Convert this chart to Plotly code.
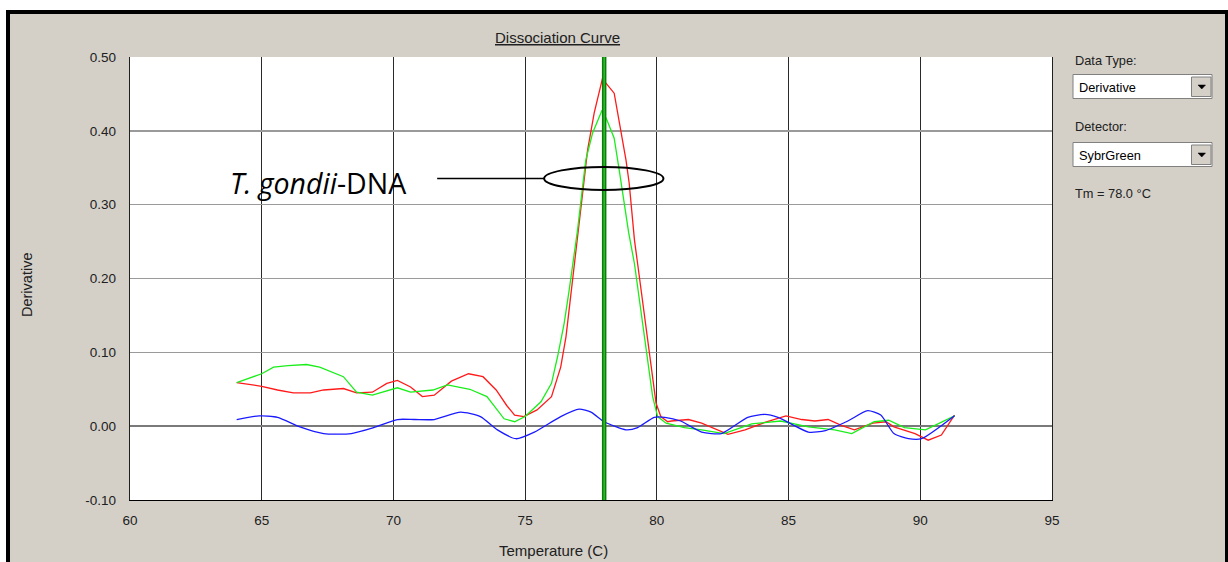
import plotly.graph_objects as go

# ---- melt-curve data (temperature in °C, derivative of fluorescence) ----
red_temp = [64.05, 64.6, 65.0, 65.6, 66.2, 66.85, 67.35, 68.1, 68.6, 69.2, 69.75, 70.15,
            70.65, 71.1, 71.55, 72.2, 72.85, 73.4, 73.9, 74.3, 74.6, 74.95, 75.45, 76.0,
            76.35, 76.55, 76.73, 76.92, 77.18, 77.37, 77.62, 77.95, 78.06, 78.38, 78.64,
            78.83, 78.95, 79.15, 79.27, 79.52, 79.78, 79.97, 80.15, 80.41, 80.55, 81.2,
            81.7, 82.2, 82.7, 83.35, 84.1, 84.9, 85.5, 86.0, 86.5, 87.0, 87.5, 88.2, 88.7,
            89.0, 89.8, 90.3, 90.8, 91.3]
red_val = [0.059, 0.056, 0.054, 0.049, 0.045, 0.045, 0.049, 0.051, 0.045, 0.046, 0.058, 0.062,
           0.053, 0.040, 0.042, 0.061, 0.071, 0.067, 0.049, 0.028, 0.015, 0.013, 0.022, 0.040,
           0.080, 0.121, 0.175, 0.229, 0.315, 0.374, 0.424, 0.473, 0.465, 0.451, 0.401,
           0.360, 0.329, 0.252, 0.220, 0.153, 0.085, 0.031, 0.013, 0.006, 0.007, 0.009,
           0.004, -0.004, -0.011, -0.005, 0.005, 0.014, 0.009, 0.007, 0.009, 0.001, -0.005, 0.004, 0.006,
           -0.001, -0.010, -0.019, -0.012, 0.015]

green_temp = [64.05, 65.0, 65.45, 66.0, 66.7, 67.2, 68.1, 68.6, 69.2, 69.7, 70.15, 70.65,
              71.5, 72.05, 72.9, 73.55, 74.2, 74.6, 75.0, 75.6, 76.0, 76.23, 76.48, 76.67,
              76.86, 76.99, 77.18, 77.3, 77.56, 77.92, 78.1, 78.38, 78.57, 78.7, 78.93,
              79.15, 79.4, 79.65, 79.84, 80.03, 80.35, 81.05, 81.7, 82.55, 83.6, 84.7,
              85.75, 86.75, 87.4, 88.25, 88.8, 89.4, 90.2, 91.3]
green_val = [0.059, 0.071, 0.080, 0.082, 0.0835, 0.080, 0.067, 0.046, 0.042, 0.047, 0.052, 0.046,
             0.049, 0.056, 0.050, 0.040, 0.010, 0.006, 0.013, 0.033, 0.058, 0.094, 0.139, 0.184,
             0.229, 0.266, 0.324, 0.360, 0.397, 0.428, 0.415, 0.390, 0.347, 0.315, 0.262,
             0.220, 0.153, 0.085, 0.040, 0.013, 0.004, -0.002, -0.005, -0.010, 0.003, 0.007,
             -0.001, -0.005, -0.010, 0.006, 0.008, -0.002, -0.005, 0.014]

blue_temp = [64.05, 64.9, 65.6, 66.45, 67.35, 68.4, 69.25, 70.15, 70.8, 71.55, 72.55, 73.3,
             73.95, 74.65, 75.35, 76.35, 77.05, 77.5, 78.0, 78.83, 79.27, 79.9, 80.3, 80.9,
             81.7, 82.45, 83.45, 84.1, 84.6, 85.75, 86.4, 87.25, 88.0, 88.5, 89.0, 89.55,
             90.05, 91.3]
blue_val = [0.009, 0.014, 0.012, -0.001, -0.010, -0.010, -0.002, 0.009, 0.009, 0.009, 0.019, 0.013,
            -0.005, -0.017, -0.008, 0.013, 0.023, 0.019, 0.006, -0.005, -0.002, 0.012, 0.012, 0.007,
            -0.008, -0.010, 0.012, 0.016, 0.012, -0.008, -0.006, 0.007, 0.021, 0.015, -0.010, -0.017,
            -0.017, 0.014]

melt_temp = 78.0
x_ticks = [60, 65, 70, 75, 80, 85, 90, 95]
y_ticks = [-0.10, 0.00, 0.10, 0.20, 0.30, 0.40, 0.50]

chart_title = "Dissociation Curve"
x_title = "Temperature (C)"
y_title = "Derivative"
data_type = "Derivative"
detector = "SybrGreen"
target_label = "<i>T. gondii</i>-DNA"

# ---- page geometry (pixels) ----
W, H = 1228, 562
L, R, T, B = 130, 1052, 57, 500
PW, PH = R - L, B - T


def xp(px):
    return (px - L) / PW


def yp(py):
    return (B - py) / PH


UI_FONT = "Liberation Sans, Arial, sans-serif"
GRAY = "#d4d0c8"

fig = go.Figure()
for tx, vy, col in [(red_temp, red_val, "#ff1a1a"),
                    (green_temp, green_val, "#1aee1a"),
                    (blue_temp, blue_val, "#1a1aff")]:
    fig.add_trace(go.Scatter(x=tx, y=vy, mode="lines",
                             line=dict(color=col, width=1.3),
                             hoverinfo="skip", showlegend=False))
fig.data[2].line.shape = "spline"
fig.data[2].line.smoothing = 0.6

shapes = []
# window background regions and frame
shapes.append(dict(type="rect", xref="paper", yref="paper", x0=xp(0), x1=xp(W), y0=yp(0), y1=yp(10),
                   fillcolor="white", line_width=0, layer="below"))
shapes.append(dict(type="rect", xref="paper", yref="paper", x0=xp(0), x1=xp(6), y0=yp(0), y1=yp(H),
                   fillcolor="white", line_width=0, layer="below"))
for x0, x1, y0, y1 in [(6, W, 10, 14), (6, 10, 10, H), (1225, W, 10, H)]:
    shapes.append(dict(type="rect", xref="paper", yref="paper", x0=xp(x0), x1=xp(x1),
                       y0=yp(y0), y1=yp(y1), fillcolor="black", line_width=0))

# Tm marker
shapes.append(dict(type="line", xref="x", yref="paper", x0=melt_temp, x1=melt_temp, y0=0, y1=1,
                   line=dict(color="#0b7d0b", width=4.5)))
shapes.append(dict(type="line", xref="x", yref="paper", x0=melt_temp, x1=melt_temp, y0=0, y1=1,
                   line=dict(color="#2fbf2f", width=1.5)))

# callout ellipse around the peak and its leader line
shapes.append(dict(type="circle", xref="x", yref="y", x0=75.72, x1=80.25, y0=0.320, y1=0.351,
                   line=dict(color="black", width=2)))
shapes.append(dict(type="line", xref="x", yref="y", x0=71.66, x1=75.72, y0=0.3355, y1=0.3355,
                   line=dict(color="black", width=1.6)))

# drop-down boxes of the side panel
for top in (74.5, 142.5):
    shapes.append(dict(type="rect", xref="paper", yref="paper", x0=xp(1073), x1=xp(1212),
                       y0=yp(top), y1=yp(top + 24), fillcolor="white",
                       line=dict(color="#808080", width=1)))
    shapes.append(dict(type="rect", xref="paper", yref="paper", x0=xp(1191.5), x1=xp(1211),
                       y0=yp(top + 2.5), y1=yp(top + 22), fillcolor=GRAY,
                       line=dict(color="#808080", width=1)))
    cy = top + 10.5
    shapes.append(dict(type="path", xref="paper", yref="paper",
                       path=f"M {xp(1198)},{yp(cy)} L {xp(1205.5)},{yp(cy)} "
                            f"L {xp(1201.75)},{yp(cy + 4)} Z",
                       fillcolor="black", line=dict(color="black", width=0.5)))

annotations = [
    dict(text=f"<u>{chart_title}</u>", x=xp(557), y=yp(37.5), xanchor="center", yanchor="middle",
         font=dict(family=UI_FONT, size=15, color="#202020")),
    dict(text=x_title, x=xp(553), y=yp(561), xanchor="center", yanchor="bottom",
         font=dict(family=UI_FONT, size=15, color="#202020")),
    dict(text=y_title, x=xp(27), y=yp(285), xanchor="center", yanchor="middle", textangle=-90,
         font=dict(family=UI_FONT, size=14.5, color="#202020")),
    dict(text=target_label, x=xp(228), y=yp(183), xanchor="left", yanchor="middle",
         font=dict(family="Open Sans, sans-serif", size=28.5, color="black")),
    dict(text="Data Type:", x=xp(1073), y=yp(60), xanchor="left", yanchor="middle",
         font=dict(family=UI_FONT, size=12.8, color="#202020")),
    dict(text=data_type, x=xp(1077), y=yp(87), xanchor="left", yanchor="middle",
         font=dict(family=UI_FONT, size=12.8, color="black")),
    dict(text="Detector:", x=xp(1073), y=yp(127), xanchor="left", yanchor="middle",
         font=dict(family=UI_FONT, size=12.8, color="#202020")),
    dict(text=detector, x=xp(1077), y=yp(155), xanchor="left", yanchor="middle",
         font=dict(family=UI_FONT, size=12.8, color="black")),
    dict(text=f"Tm = {melt_temp:.1f} °C", x=xp(1073), y=yp(194), xanchor="left", yanchor="middle",
         font=dict(family=UI_FONT, size=12.8, color="#202020")),
]
for a in annotations:
    a.update(xref="paper", yref="paper", showarrow=False)

fig.update_layout(
    width=W, height=H,
    margin=dict(l=L, r=W - R, t=T, b=H - B, pad=0),
    paper_bgcolor=GRAY, plot_bgcolor="white",
    showlegend=False, hovermode=False,
    shapes=shapes, annotations=annotations,
    xaxis=dict(range=[60, 95], tickvals=x_ticks, ticktext=[str(v) for v in x_ticks],
               showgrid=True, gridcolor="#2a2a2a", gridwidth=1.2,
               showline=True, linecolor="black", linewidth=1.2, mirror=False,
               zeroline=False, ticks="", ticklabelstandoff=8,
               tickfont=dict(family=UI_FONT, size=13.5, color="#202020"), fixedrange=True),
    yaxis=dict(range=[-0.1, 0.5], tickvals=y_ticks, ticktext=[f"{v:.2f}" for v in y_ticks],
               showgrid=True, gridcolor="#9a9a9a", gridwidth=1.5,
               showline=True, linecolor="#202020", linewidth=1.2, mirror=True,
               zeroline=True, zerolinecolor="#7a7a7a", zerolinewidth=1.5,
               ticks="", ticklabelstandoff=10,
               tickfont=dict(family=UI_FONT, size=13.5, color="#202020"), fixedrange=True),
)

fig.write_html("out.html", config={"displayModeBar": False, "staticPlot": True})
